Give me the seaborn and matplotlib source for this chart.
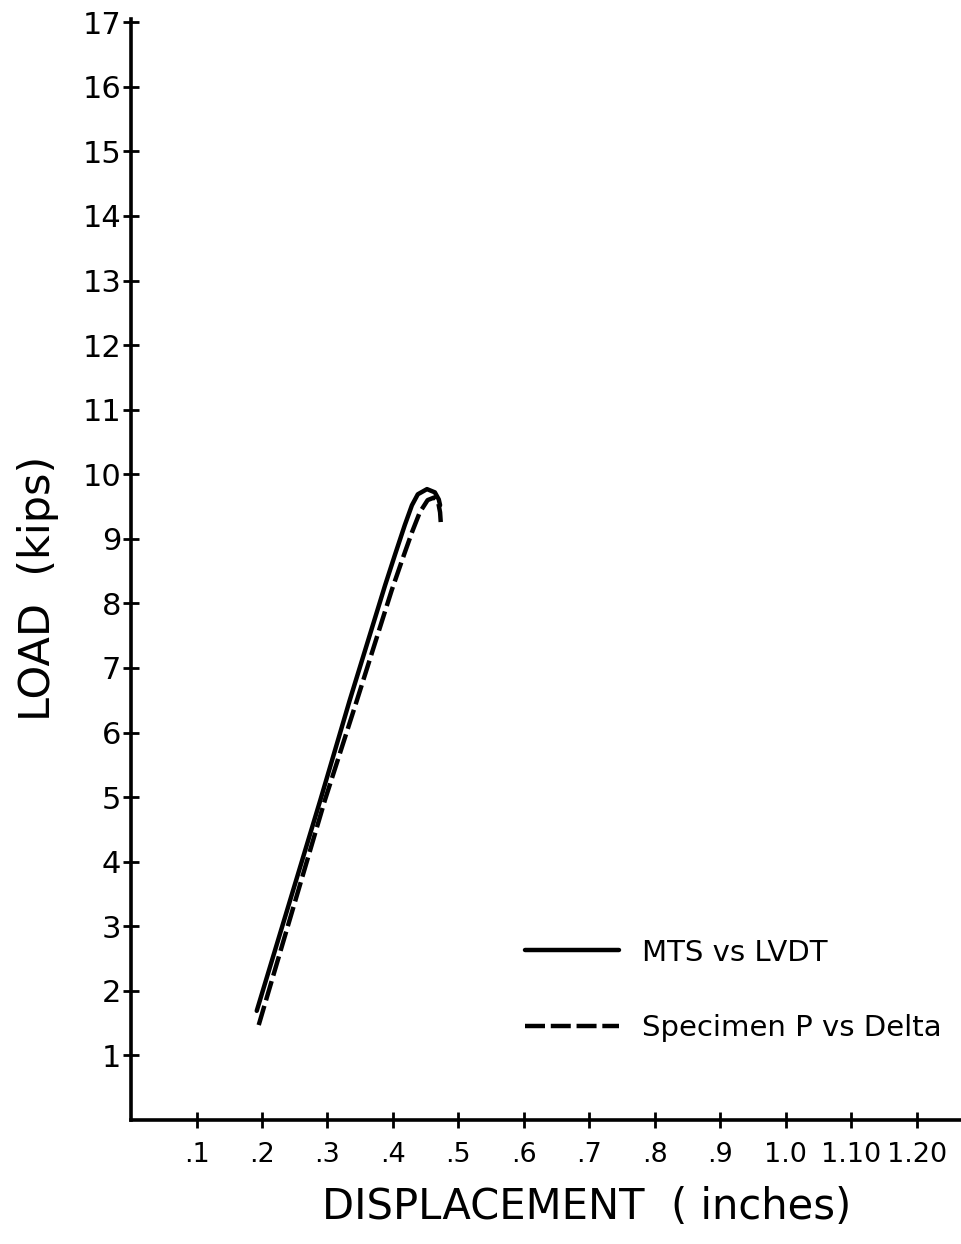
import numpy as np
import pandas as pd
import matplotlib
matplotlib.use("Agg")
import matplotlib.pyplot as plt
import seaborn as sns

# ---- data ----
mts_x = [0.192, 0.289, 0.334, 0.388, 0.403, 0.418, 0.429, 0.438, 0.452, 0.464, 0.470, 0.472]
mts_y = [1.69, 4.95, 6.50, 8.28, 8.75, 9.21, 9.52, 9.69, 9.77, 9.72, 9.61, 9.52]

spec_x = [0.195, 0.296, 0.345, 0.398, 0.414, 0.429, 0.441, 0.453, 0.463, 0.469, 0.472, 0.473]
spec_y = [1.47, 4.95, 6.50, 8.20, 8.67, 9.10, 9.41, 9.60, 9.64, 9.57, 9.41, 9.26]

series_names = ["MTS vs LVDT", "Specimen P vs Delta"]

x_ticks = [0.1, 0.2, 0.3, 0.4, 0.5, 0.6, 0.7, 0.8, 0.9, 1.0, 1.1, 1.2]
x_tick_labels = [".1", ".2", ".3", ".4", ".5", ".6", ".7", ".8", ".9", "1.0", "1.10", "1.20"]
y_ticks = list(range(1, 18))
y_tick_labels = [str(v) for v in y_ticks]

df = pd.concat([
    pd.DataFrame({"x": mts_x, "y": mts_y, "series": series_names[0]}),
    pd.DataFrame({"x": spec_x, "y": spec_y, "series": series_names[1]}),
], ignore_index=True)

sns.set_style("white")
plt.rcParams["font.family"] = ["DejaVu Sans"]
plt.rcParams["text.color"] = "black"
plt.rcParams["axes.labelcolor"] = "black"
plt.rcParams["xtick.color"] = "black"
plt.rcParams["ytick.color"] = "black"

fig = plt.figure(figsize=(9.62, 12.44), dpi=100)
ax = fig.add_axes([0.1362, 0.0997, 0.8617, 0.885])

sns.lineplot(data=df, x="x", y="y", hue="series", style="series",
             palette={series_names[0]: "black", series_names[1]: "black"},
             dashes={series_names[0]: "", series_names[1]: (4.5, 1.3)},
             sort=False, estimator=None, linewidth=3.2, ax=ax)

ax.set_xlim(0, 1.266)
ax.set_ylim(0, 17.05)
ax.set_xticks(x_ticks)
ax.set_xticklabels(x_tick_labels)
ax.set_yticks(y_ticks)
ax.set_yticklabels(y_tick_labels)

for s in ["top", "right"]:
    ax.spines[s].set_visible(False)
for s in ["left", "bottom"]:
    ax.spines[s].set_linewidth(2.6)
    ax.spines[s].set_color("black")

ax.tick_params(axis="both", which="major", bottom=True, left=True,
               direction="inout", length=12, width=2.0, colors="black")
ax.tick_params(axis="x", labelsize=19.5, pad=10)
ax.tick_params(axis="y", labelsize=22, pad=1)

ax.set_xlabel("DISPLACEMENT  ( inches)", fontsize=30, color="black")
ax.set_ylabel("LOAD  (kips)", fontsize=31, color="black")
ax.xaxis.set_label_coords(0.55, -0.06)
ax.yaxis.set_label_coords(-0.087, 0.483)

leg = ax.legend(loc="upper left", bbox_to_anchor=(0.444, 0.1885), frameon=False,
                fontsize=21, handlelength=3.2, handletextpad=0.8, labelspacing=1.62)
for line in leg.get_lines():
    line.set_linewidth(3.2)
for t in leg.get_texts():
    t.set_color("black")

fig.savefig("out.png", dpi=100)
